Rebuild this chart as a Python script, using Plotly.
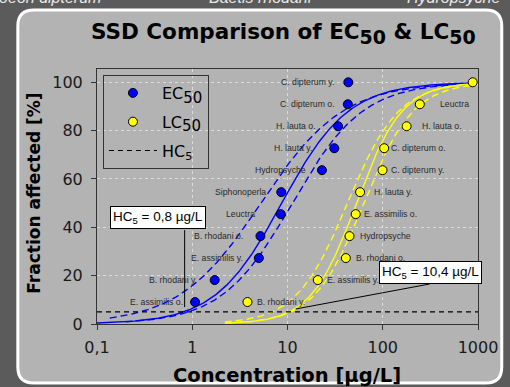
import numpy as np
import plotly.graph_objects as go

# ---------------- data ----------------
ec_species = ["E. assimilis o.", "B. rhodani y.", "E. assimilis y.", "B. rhodani o.", "Leuctra",
              "Siphonoperla", "Hydropsyche", "H. lauta y.", "H. lauta o.", "C. dipterum o.", "C. dipterum y."]
ec_conc = [1.07, 1.72, 5.0, 5.2, 8.5, 8.6, 23, 31, 34, 43, 43.5]
ec_frac = [9.09, 18.18, 27.27, 36.36, 45.45, 54.55, 63.64, 72.73, 81.82, 90.91, 100]

lc_species = ["B. rhodani y.", "E. assimilis y.", "B. rhodani o.", "Hydropsyche", "E. assimilis o.",
              "H. lauta y.", "C. dipterum y.", "C. dipterum o.", "H. lauta o.", "Leuctra", ""]
lc_conc = [3.8, 20.8, 41, 44.8, 52, 57.8, 99.5, 103.5, 178, 245, 880]
lc_frac = [9.09, 18.18, 27.27, 36.36, 45.45, 54.55, 63.64, 72.73, 81.82, 90.91, 100]

# fitted log-logistic SSD curves: (log10 median, slope) for fit, lower and upper band
ec_fit = (0.94, 0.35)
ec_low = (0.72, 0.43)
ec_up = (1.05, 0.37)
lc_fit = (1.724, 0.24)
lc_low = (1.63, 0.27)
lc_up = (1.80, 0.26)

hc5_ec = 0.8
hc5_lc = 10.4
hc5_level = 5

x_ticks = [0.1, 1, 10, 100, 1000]
x_ticktext = ["0,1", "1", "10", "100", "1000"]
y_ticks = [0, 20, 40, 60, 80, 100]

# label offsets (px) from marker centre
ec_gap = [10, 16, 14, 15, 24, 13, 14, 20, 20, 11, 12]
lc_gap = [8, 7, 8, 8, 6, 12, 6, 5, 13, 18, 0]

BLUE = "#0000ff"
YEL = "#ffff00"
PANEL = "#b3b3b3"
BG = "#5b5b5b"
AX = "#333333"


def cdf(logx, p):
    m, s = p
    return 100.0 / (1.0 + np.exp(-(logx - m) / s))


def curve(start, p):
    lx = np.linspace(np.log10(start), 3, 300)
    return 10 ** lx, cdf(lx, p)


fig = go.Figure()

# curves
for start, p, dash, col in [(0.1, ec_fit, "solid", BLUE), (0.136, ec_low, "7px,4px", BLUE),
                            (0.2, ec_up, "7px,4px", BLUE),
                            (2.2, lc_fit, "solid", YEL), (2.2, lc_low, "7px,4px", YEL),
                            (2.2, lc_up, "7px,4px", YEL)]:
    xx, yy = curve(start, p)
    fig.add_trace(go.Scatter(x=xx, y=yy, mode="lines", showlegend=False, hoverinfo="skip",
                             line=dict(color=col, width=1.4, dash=dash)))

# HC5 line
fig.add_trace(go.Scatter(x=[0.1, 1000], y=[hc5_level, hc5_level], mode="lines",
                         name="HC<sub>5</sub>", legendrank=3, legendgroup="c",
                         line=dict(color="black", width=1.2, dash="5px,4px")))

fig.add_trace(go.Scatter(x=ec_conc, y=ec_frac, mode="markers",
                         name="EC<sub><span style='font-size:15px'>50</span></sub>",
                         legendrank=1, legendgroup="a",
                         marker=dict(size=9, color=BLUE, line=dict(color="black", width=1))))
fig.add_trace(go.Scatter(x=lc_conc, y=lc_frac, mode="markers",
                         name="LC<sub><span style='font-size:15px'>50</span></sub>",
                         legendrank=2, legendgroup="b",
                         marker=dict(size=9, color=YEL, line=dict(color="black", width=1))))

ann = []
lab_font = dict(family="Liberation Sans, Arial", size=8.7, color="#2a2a2a")
for s, c, f, g in zip(ec_species, ec_conc, ec_frac, ec_gap):
    ann.append(dict(x=np.log10(c), y=f, xref="x", yref="y", text=s, showarrow=False,
                    xanchor="right", xshift=-g, font=lab_font))
for s, c, f, g in zip(lc_species, lc_conc, lc_frac, lc_gap):
    if s:
        ann.append(dict(x=np.log10(c), y=f, xref="x", yref="y", text=s, showarrow=False,
                        xanchor="left", xshift=g, font=lab_font))

# HC5 boxes
box_font = dict(family="Liberation Sans, Arial", size=13.5, color="black")
ann.append(dict(x=np.log10(hc5_ec * 1.04), y=7, xref="x", yref="y",
                text="HC<sub>5</sub> = 0,8 µg/L", showarrow=False, xshift=-27, yshift=89.5,
                bgcolor="white", bordercolor="black", borderwidth=1, borderpad=2, font=box_font))
ann.append(dict(x=np.log10(hc5_lc * 1.17), y=6.2, xref="x", yref="y",
                text="HC<sub>5</sub> = 10,4 µg/L", showarrow=False, xshift=135, yshift=37,
                bgcolor="white", bordercolor="black", borderwidth=1, borderpad=2, font=box_font))

shapes = []
shapes.append(dict(type="line", xref="x", yref="y", xsizemode="pixel", ysizemode="pixel",
                   xanchor=hc5_ec * 1.04, yanchor=7, x0=0, y0=0, x1=-27, y1=77,
                   line=dict(color="black", width=1)))
shapes.append(dict(type="line", xref="x", yref="y", xsizemode="pixel", ysizemode="pixel",
                   xanchor=hc5_lc * 1.17, yanchor=6.2, x0=0, y0=0, x1=134, y1=25,
                   line=dict(color="black", width=1)))

# panel with rounded corners (pixel -> paper)
L, T, PW, PH = 97, 69, 385, 255


def px(x):
    return (x - L) / PW


def py(y):
    return (T + PH - y) / PH


x0, x1, y0, y1, r = 17, 506, 10, 383, 16
path = (f"M {px(x0+r)},{py(y0)} L {px(x1-r)},{py(y0)} Q {px(x1)},{py(y0)} {px(x1)},{py(y0+r)} "
        f"L {px(x1)},{py(y1-r)} Q {px(x1)},{py(y1)} {px(x1-r)},{py(y1)} "
        f"L {px(x0+r)},{py(y1)} Q {px(x0)},{py(y1)} {px(x0)},{py(y1-r)} "
        f"L {px(x0)},{py(y0+r)} Q {px(x0)},{py(y0)} {px(x0+r)},{py(y0)} Z")
shapes.append(dict(type="path", xref="paper", yref="paper", path=path, layer="below",
                   fillcolor=PANEL, line=dict(color="white", width=3)))

# top cut-off texts
top_font = dict(family="Liberation Sans, Arial", size=16, color="#e8e8e8")
ann.append(dict(xref="paper", yref="paper", x=px(103), y=py(8), xanchor="right", yanchor="bottom",
                text="<i>Cloeon dipterum</i>", showarrow=False, font=top_font))
ann.append(dict(xref="paper", yref="paper", x=px(262), y=py(8), xanchor="center", yanchor="bottom",
                text="<i>Baetis rhodani</i>", showarrow=False, font=top_font))
ann.append(dict(xref="paper", yref="paper", x=px(408), y=py(8), xanchor="left", yanchor="bottom",
                text="<i>Hydropsyche</i>", showarrow=False, font=top_font))

# title & axis titles
sub50 = "<sub><span style='font-size:19px'>50</span></sub>"
ann.append(dict(xref="paper", yref="paper", x=px(285), y=py(33), xanchor="center", yanchor="middle",
                text=f"<b>SSD Comparison of EC{sub50} &amp; LC{sub50}</b>", showarrow=False,
                font=dict(family="DejaVu Sans", size=21.5, color="black")))
ann.append(dict(xref="paper", yref="paper", x=px(33), y=py(193), xanchor="center", yanchor="middle",
                text="<b>Fraction affected [%]</b>", textangle=-90, showarrow=False,
                font=dict(family="DejaVu Sans", size=17, color="black")))
ann.append(dict(xref="paper", yref="paper", x=px(289), y=py(375), xanchor="center", yanchor="middle",
                text="<b>Concentration [µg/L]</b>", showarrow=False,
                font=dict(family="DejaVu Sans", size=19.5, color="black")))

tick_font = dict(family="DejaVu Sans", size=16, color="#1a1a1a")
fig.update_layout(
    width=510, height=387,
    margin=dict(l=L, r=510 - L - PW, t=T, b=387 - T - PH),
    paper_bgcolor=BG, plot_bgcolor="rgba(0,0,0,0)",
    annotations=ann, shapes=shapes,
    showlegend=True,
    legend=dict(x=px(103), y=py(75), xanchor="left", yanchor="top", bgcolor="rgba(0,0,0,0)",
                bordercolor=AX, borderwidth=1, font=dict(family="DejaVu Sans", size=16, color="black"),
                tracegroupgap=5, itemwidth=48),
    xaxis=dict(type="log", range=[-1, 3], tickvals=x_ticks, ticktext=x_ticktext,
               ticks="outside", ticklen=5, tickcolor=AX, showline=True, linecolor=AX, linewidth=1,
               mirror=True, showgrid=True, gridcolor="#dcdcdc", griddash="dot", gridwidth=1,
               zeroline=False, tickfont=tick_font, ticklabelstandoff=4),
    yaxis=dict(range=[0, 105.5], tickvals=y_ticks, ticks="outside", ticklen=5, tickcolor=AX,
               showline=True, linecolor=AX, linewidth=1, mirror=True, showgrid=True,
               gridcolor="#dcdcdc", griddash="dot", gridwidth=1, zeroline=False,
               tickfont=tick_font, ticklabelstandoff=5),
)

fig.write_html("out.html", config={"displayModeBar": False},
               post_script="document.body.style.margin='0';document.body.style.overflow='hidden';")
